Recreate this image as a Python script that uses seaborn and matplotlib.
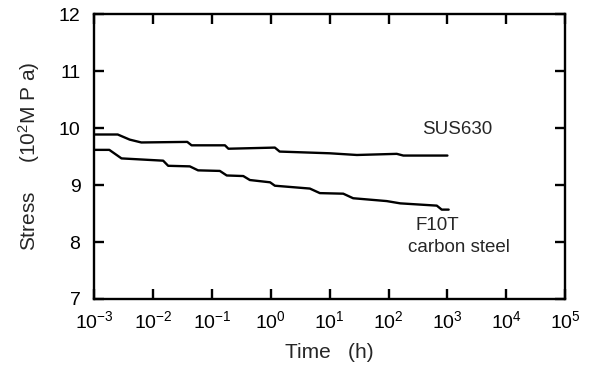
import math
import matplotlib
matplotlib.use("Agg")
import matplotlib.pyplot as plt
import seaborn as sns
import pandas as pd
from matplotlib.ticker import FixedLocator, NullLocator

# Data: time (h) vs stress (x10^2 MPa)
sus_time = [0.001, 0.0025, 0.004, 0.0063, 0.038, 0.045, 0.166, 0.19, 1.17, 1.41,
            10, 29, 138, 178, 1000]
sus_stress = [9.89, 9.89, 9.80, 9.75, 9.76, 9.70, 9.70, 9.64, 9.66, 9.59,
              9.56, 9.53, 9.55, 9.52, 9.52]

f10t_time = [0.001, 0.0018, 0.0029, 0.0148, 0.018, 0.042, 0.058, 0.136, 0.178, 0.34,
             0.44, 0.97, 1.17, 4.6, 6.8, 17, 25, 93, 158, 660, 800, 1050]
f10t_stress = [9.62, 9.62, 9.47, 9.43, 9.34, 9.33, 9.26, 9.25, 9.17, 9.16,
               9.09, 9.05, 8.99, 8.94, 8.86, 8.85, 8.77, 8.72, 8.68, 8.64, 8.57, 8.57]

y_ticks = [7, 8, 9, 10, 11, 12]
x_decades = [1e-3, 1e-2, 1e-1, 1e0, 1e1, 1e2, 1e3, 1e4, 1e5]

df = pd.concat([
    pd.DataFrame({"Time": sus_time, "Stress": sus_stress, "Steel": "SUS630"}),
    pd.DataFrame({"Time": f10t_time, "Stress": f10t_stress, "Steel": "F10T carbon steel"}),
])

sns.set_style("ticks")
plt.rcParams["font.family"] = ["Liberation Sans", "DejaVu Sans"]
plt.rcParams["mathtext.fontset"] = "custom"
plt.rcParams["mathtext.rm"] = "Liberation Sans"
plt.rcParams["mathtext.it"] = "Liberation Sans"
plt.rcParams["mathtext.default"] = "rm"

fig = plt.figure(figsize=(5.93, 3.70), dpi=100)
ax = fig.add_axes([0.159, 0.192, 0.794, 0.769])

sns.lineplot(data=df, x="Time", y="Stress", hue="Steel",
             palette={"SUS630": "black", "F10T carbon steel": "black"},
             linewidth=1.7, legend=False, ax=ax, sort=False, estimator=None)

ax.set_xscale("log")
ax.set_xlim(1e-3, 1e5)
ax.set_ylim(7, 12)
ax.xaxis.set_major_locator(FixedLocator(x_decades))
ax.xaxis.set_minor_locator(NullLocator())
ax.yaxis.set_major_locator(FixedLocator(y_ticks))
ax.set_xticklabels([f"$10^{{{int(round(math.log10(v)))}}}$" for v in x_decades])
ax.set_yticklabels([str(v) for v in y_ticks])

for s in ax.spines.values():
    s.set_visible(True)
    s.set_linewidth(1.7)
    s.set_color("black")

ax.tick_params(axis="both", which="major", direction="in", length=7, width=1.7,
               top=True, right=True, labelsize=14, colors="black")
ax.tick_params(axis="x", pad=8)
ax.tick_params(axis="y", pad=10)

ax.set_xlabel("Time   (h)", fontsize=15, labelpad=8)
ax.set_ylabel("Stress     (10$^2$M P a)", fontsize=15, labelpad=12)

ax.text(370, 9.97, "SUS630", fontsize=13.5, ha="left", va="center")
ax.text(283, 8.285, "F10T", fontsize=13.5, ha="left", va="center")
ax.text(213, 7.90, "carbon steel", fontsize=13.5, ha="left", va="center")

fig.savefig("out.png", dpi=100)
